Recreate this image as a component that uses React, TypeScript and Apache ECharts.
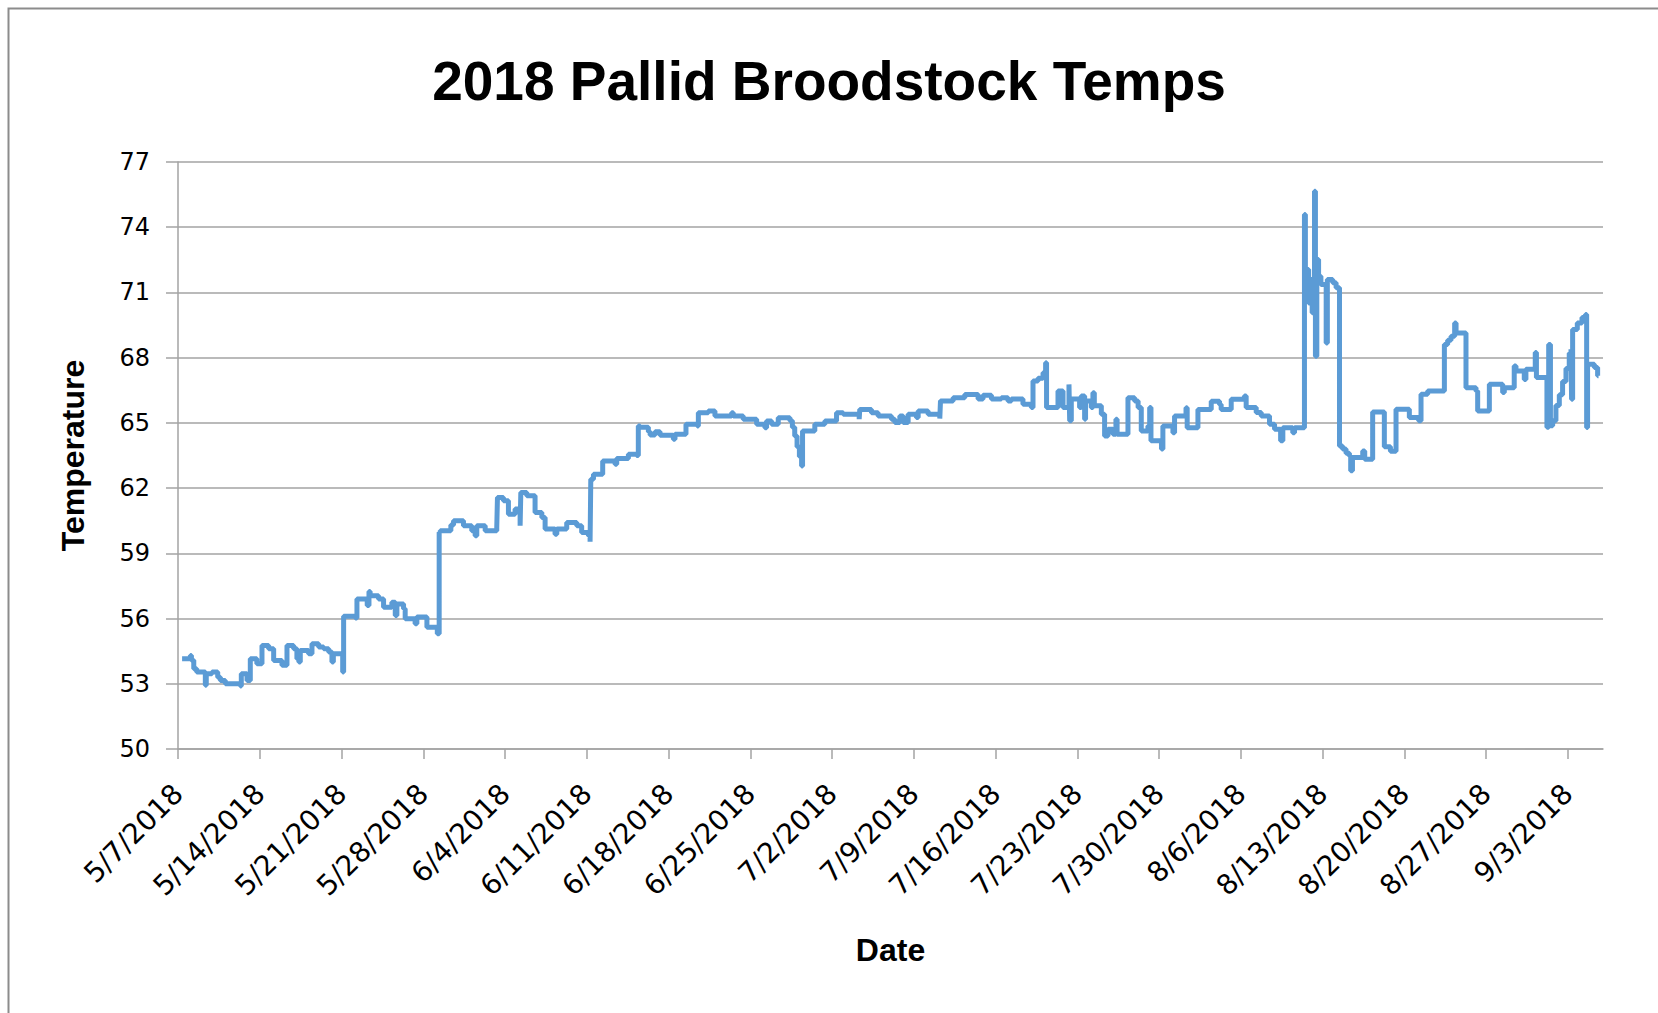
import React, { useEffect, useRef } from "react";
import * as echarts from "echarts";

// ---- data ----
const chartTitle = "2018 Pallid Broodstock Temps";
const xAxisName = "Date";
const yAxisName = "Temperature";

// tick labels on the date axis (one every 7 days, starting 5/7/2018 = day 0)
const xTickLabels = [
  "5/7/2018", "5/14/2018", "5/21/2018", "5/28/2018", "6/4/2018", "6/11/2018",
  "6/18/2018", "6/25/2018", "7/2/2018", "7/9/2018", "7/16/2018", "7/23/2018",
  "7/30/2018", "8/6/2018", "8/13/2018", "8/20/2018", "8/27/2018", "9/3/2018",
];
const xTickDays = [0, 7, 14, 21, 28, 35, 42, 49, 56, 63, 70, 77, 84, 91, 98, 105, 112, 119];
const xMaxDay = 122;

const yTicks = [50, 53, 56, 59, 62, 65, 68, 71, 74, 77];

// [days since 5/7/2018, temperature] — each value holds until the next reading
const readingsMay: [number, number][] = [
  [0.35, 54.15], [1.06, 54.3], [1.15, 54.08], [1.35, 53.69], [1.6, 53.54], [2.34, 52.93],
  [2.42, 53.46], [2.91, 53.54], [3.4, 53.3], [3.63, 53.15], [4.05, 53.0], [5.34, 52.9],
  [5.42, 53.46], [5.91, 53.15], [6.19, 54.15], [6.75, 53.92], [7.19, 54.76], [7.76, 54.61],
  [8.19, 54.07], [8.9, 53.85], [9.33, 54.76], [9.9, 54.61], [10.18, 54.15], [10.35, 54.0],
  [10.47, 54.53], [11.18, 54.38], [11.47, 54.84], [12.04, 54.69], [12.47, 54.61], [12.9, 54.46],
  [13.18, 54.0], [13.3, 54.38], [14.1, 53.54], [14.18, 56.11], [15.18, 56.02], [15.32, 56.9],
  [16.2, 56.6], [16.35, 57.24], [16.45, 57.05], [17.17, 56.9], [17.6, 56.52], [18.31, 56.75],
  [18.6, 56.14], [18.74, 56.67], [19.31, 56.45], [19.45, 55.99], [20.3, 55.76], [20.45, 56.07],
  [21.31, 55.6], [22.2, 55.3],
];
const readingsJune: [number, number][] = [
  [22.36, 59.97], [22.45, 60.04], [23.36, 60.3], [23.59, 60.5], [24.44, 60.27], [25.15, 60.04],
  [25.44, 59.81], [25.58, 60.27], [26.3, 60.04], [27.29, 60.2], [27.35, 61.57], [27.86, 61.42],
  [28.29, 60.8], [28.86, 61.04], [29.29, 60.27], [29.35, 61.8], [29.86, 61.65], [30.57, 60.88],
  [31.15, 60.65], [31.43, 60.12], [32.28, 59.88], [32.43, 60.12], [33.28, 60.42], [34.14, 60.27],
  [34.56, 59.96], [35.14, 59.81], [35.28, 59.53], [35.34, 62.41], [35.57, 62.64], [36.36, 63.25],
  [37.42, 63.1], [37.56, 63.36], [38.56, 63.56], [39.27, 63.5], [39.41, 64.86], [39.56, 64.8],
  [40.27, 64.59], [40.42, 64.44], [40.84, 64.59], [41.27, 64.43], [42.41, 64.25], [42.55, 64.48],
  [43.49, 64.94], [44.46, 64.86], [44.55, 65.47], [45.4, 65.55], [45.97, 65.32], [47.4, 65.47],
  [47.54, 65.32], [48.39, 65.17], [49.54, 64.94], [50.25, 64.78], [50.39, 65.09], [50.82, 64.94],
  [51.39, 65.24], [52.39, 65.1], [52.6, 64.8], [52.8, 64.4], [53.0, 63.9], [53.2, 63.45],
  [53.39, 63.02], [53.47, 64.63], [54.52, 64.94], [55.38, 65.09],
];
const readingsJuly: [number, number][] = [
  [56.38, 65.47], [56.95, 65.4], [58.32, 65.17], [58.37, 65.62], [59.37, 65.47], [59.94, 65.32],
  [61.08, 65.17], [61.37, 65.02], [61.8, 65.32], [62.08, 65.02], [62.51, 65.4], [63.22, 65.25],
  [63.37, 65.55], [64.22, 65.4], [65.22, 65.2], [65.28, 66.01], [66.36, 66.16], [67.36, 66.31],
  [68.5, 66.1], [68.92, 66.27], [69.64, 66.1], [70.49, 66.16], [71.06, 66.01], [71.35, 66.1],
  [72.34, 65.86], [73.06, 65.71], [73.2, 66.93], [73.63, 67.05], [74.06, 67.31], [74.28, 67.77],
  [74.36, 65.71], [75.34, 66.47], [75.77, 65.71], [76.28, 66.77], [76.34, 65.1], [76.48, 66.1],
  [77.19, 65.71], [77.33, 66.24], [77.62, 65.17], [77.7, 66.01], [78.19, 65.71], [78.33, 66.39],
  [78.45, 65.79], [79.05, 65.4], [79.33, 64.4], [79.62, 64.71], [80.05, 64.48], [80.3, 65.17],
  [80.4, 64.48], [81.33, 66.16], [81.9, 66.01], [82.2, 65.71], [82.47, 64.63], [83.04, 64.86],
  [83.19, 65.71], [83.3, 64.18],
];
const readingsAugSep: [number, number][] = [
  [84.2, 63.8], [84.32, 64.86], [85.18, 64.55], [85.32, 65.32], [86.3, 65.7], [86.4, 64.78],
  [87.32, 65.62], [88.46, 66.0], [89.17, 65.85], [89.31, 65.62], [90.17, 66.09], [91.3, 66.24],
  [91.45, 65.71], [92.31, 65.48], [92.74, 65.32], [93.45, 64.94], [93.88, 64.71], [94.4, 64.18],
  [94.59, 64.78], [95.44, 64.55], [95.59, 64.78], [96.44, 74.58], [96.52, 70.91], [96.65, 72.06],
  [96.8, 70.52], [96.9, 71.6], [97.1, 70.07], [97.3, 75.65], [97.38, 68.07], [97.5, 72.51],
  [97.65, 71.75], [97.85, 71.37], [98.3, 68.68], [98.4, 71.6], [98.86, 71.45], [99.15, 71.22],
  [99.44, 63.94], [99.7, 63.8], [100.0, 63.6], [100.29, 63.48], [100.4, 62.8], [100.55, 63.41],
  [101.43, 63.71], [101.6, 63.33], [102.28, 65.5], [103.28, 63.9], [103.8, 63.7], [104.28, 65.63],
  [105.42, 65.25], [106.22, 65.1], [106.42, 66.32], [106.99, 66.47], [108.42, 68.61], [108.7, 68.8],
  [108.99, 68.99], [109.3, 69.6], [109.42, 69.14], [110.27, 66.62], [111.13, 66.47], [111.27, 65.55],
  [112.27, 66.78], [113.41, 66.4], [113.55, 66.62], [114.4, 67.62], [114.55, 67.39], [115.26, 67.0],
  [115.4, 67.47], [116.2, 68.24], [116.3, 67.09], [117.2, 64.8], [117.35, 68.61], [117.5, 64.87],
  [117.69, 65.1], [117.97, 65.8], [118.26, 66.3], [118.54, 66.9], [118.83, 67.5], [119.11, 68.2],
  [119.26, 68.39], [119.31, 66.09], [119.4, 69.3], [119.8, 69.6], [120.2, 69.85], [120.5, 69.99],
  [120.6, 64.79], [120.68, 67.7], [121.26, 67.55], [121.54, 67.17], [121.62, 67.17],
];

const readings = [...readingsMay, ...readingsJune, ...readingsJuly, ...readingsAugSep];

const W = 1658;
const H = 1013;

export default function App() {
  const ref = useRef<HTMLDivElement>(null);

  useEffect(() => {
    if (!ref.current) return;
    const chart = echarts.init(ref.current, undefined, { renderer: "svg", width: W, height: H });
    const gridColor = "#a3a3a3";
    const nameFont = { fontFamily: "Liberation Sans", fontWeight: "bold" as const, fontSize: 32, color: "#000" };

    chart.setOption({
      animation: false,
      backgroundColor: "#ffffff",
      title: {
        text: chartTitle,
        left: "center",
        top: 48,
        textStyle: { fontFamily: "Liberation Sans", fontWeight: "bold", fontSize: 55, color: "#000" },
      },
      graphic: [
        {
          type: "rect",
          silent: true,
          z: -10,
          shape: { x: 8.5, y: 8.5, width: 1700, height: 1100 },
          style: { fill: "none", stroke: "#8c8c8c", lineWidth: 2 },
        },
      ],
      grid: { left: 178, right: 55, top: 162, bottom: 264, containLabel: false },
      xAxis: {
        type: "value",
        min: 0,
        max: xMaxDay,
        name: xAxisName,
        nameLocation: "middle",
        nameGap: 185,
        nameTextStyle: nameFont,
        axisLine: { show: true, lineStyle: { color: gridColor, width: 1.5 } },
        axisTick: { show: true, length: 10, customValues: xTickDays, lineStyle: { color: gridColor, width: 1.5 } },
        axisLabel: {
          fontFamily: "DejaVu Sans",
          fontSize: 28,
          color: "#000",
          customValues: xTickDays,
          rotate: 45,
          margin: 40,
          formatter: (v: number) => {
            const i = xTickDays.indexOf(Math.round(v));
            return i >= 0 ? xTickLabels[i] : "";
          },
        },
        splitLine: { show: false },
      },
      yAxis: {
        type: "value",
        min: 50,
        max: 77,
        name: yAxisName,
        nameLocation: "middle",
        nameRotate: 90,
        nameGap: 89,
        nameTextStyle: nameFont,
        axisLine: { show: true, lineStyle: { color: gridColor, width: 1.5 } },
        axisTick: { show: true, length: 12, customValues: yTicks, lineStyle: { color: gridColor, width: 1.5 } },
        axisLabel: { fontFamily: "DejaVu Sans", fontSize: 24, color: "#000", customValues: yTicks, margin: 28 },
        splitLine: { show: true, lineStyle: { color: gridColor, width: 1.5 } },
      },
      series: [
        {
          type: "line",
          step: "end",
          data: readings,
          showSymbol: false,
          symbol: "none",
          lineStyle: { color: "#5b9bd5", width: 5 },
          itemStyle: { color: "#5b9bd5" },
        },
      ],
    });
    return () => chart.dispose();
  }, []);

  return (
    <div
      ref={ref}
      style={{ position: "fixed", left: 0, top: 0, width: W, height: H, background: "#fff" }}
    />
  );
}
